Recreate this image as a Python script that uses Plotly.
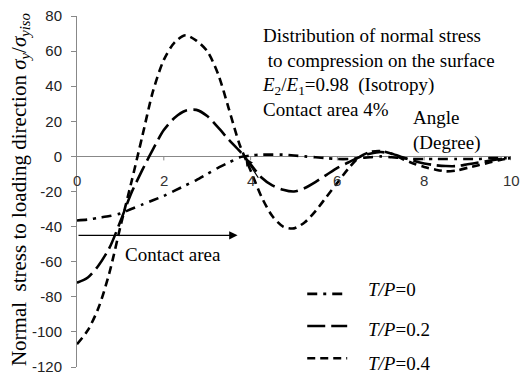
import plotly.graph_objects as go

# Angle (degree) sampling
angle = [0, 0.25, 0.5, 0.75, 1.0, 1.25, 1.5, 1.75, 2.0, 2.25, 2.5, 2.75, 3.0, 3.25,
         3.5, 3.75, 4.0, 4.25, 4.5, 4.75, 5.0, 5.25, 5.5, 5.75, 6.0, 6.25, 6.5, 6.75,
         7.0, 7.25, 7.5, 7.75, 8.0, 8.25, 8.5, 8.75, 9.0, 9.25, 9.5, 9.75, 10.0]

# Normal stress sigma_y / sigma_yiso for each T/P ratio
stress_tp0 = [-36.5, -36, -35, -34, -32.5, -30, -27.5, -25, -22.5, -19.5, -16.5, -13.5,
              -10, -6.5, -3.5, -0.5, 0.5, 1, 1, 1, 0.5, 0, -0.5, -1, -1.5, -1.5, -1,
              -0.5, 0, -0.5, -1, -1.5, -1.5, -1.5, -1.5, -1.5, -1.5, -1.5, -1, -1, -1]
stress_tp02 = [-72, -69, -62, -52, -37, -21, -8, 4, 15, 22, 26, 26.5, 23, 16.5, 9.5, 3,
               -4.5, -12, -16.5, -19, -20, -18, -14.5, -10.5, -6.5, -3.5, -0.5, 1.5,
               2.5, 1.5, -0.5, -2.5, -4, -5, -5.5, -5.5, -4.5, -3.5, -2.5, -1.5, -1]
stress_tp04 = [-107, -99, -86, -66, -40, -15, 11, 37, 55, 65, 69, 66, 60, 47, 27, 6.5,
               -8, -23, -34, -40, -41, -37.5, -31, -23, -15, -7, -0.5, 2.5, 3, 1.5,
               -1.5, -4, -6, -7.5, -8.5, -8, -6.5, -5, -3.5, -2, -1]

series_names = ["<i>T/P</i>=0", "<i>T/P</i>=0.2", "<i>T/P</i>=0.4"]
series_values = [stress_tp0, stress_tp02, stress_tp04]
series_dash = ["10px,6px,3px,6px", "18px,6px", "8px,5px"]

x_ticks = [0, 2, 4, 6, 8, 10]
y_ticks = [80, 60, 40, 20, 0, -20, -40, -60, -80, -100, -120]

contact_arrow_y = -45
contact_arrow_end = 3.7

SERIF = "Liberation Serif"
SANS = "Liberation Sans"

fig = go.Figure()
for name, vals, dash in zip(series_names, series_values, series_dash):
    fig.add_trace(go.Scatter(
        x=angle, y=vals, mode="lines", name=name,
        line=dict(color="black", width=2.6, dash=dash, shape="spline", smoothing=0.8),
        showlegend=False,
    ))

# plot-area geometry in pixels (used to place layout items in paper units)
L, R, T, B = 76.5, 511, 15, 375


def px(xp):
    return (xp - L) / (R - L)


def py(yp):
    return (B - yp) / (B - T)


shapes = []
annotations = []

# small tick marks hanging below the zero line at each x tick
for xv in x_ticks[1:]:
    shapes.append(dict(type="line", xref="x", yref="y", x0=xv, x1=xv,
                       ysizemode="pixel", yanchor=0, y0=0, y1=-4,
                       line=dict(color="#888888", width=1)))

# x tick labels sit just under the zero line
for xv in x_ticks:
    annotations.append(dict(x=xv, y=0, xref="x", yref="y", text=str(xv),
                            showarrow=False, yshift=-24,
                            font=dict(family=SANS, size=15, color="#333333")))

# legend drawn by hand: line sample + label
legend_line_y = [300, 333, 366]
legend_text_y = [296, 337, 371]
for name, dash, ly, ty in zip(series_names, series_dash, legend_line_y, legend_text_y):
    shapes.append(dict(type="line", xref="paper", yref="paper",
                       x0=px(307), x1=px(347), y0=py(ly), y1=py(ly),
                       line=dict(color="black", width=2.6, dash=dash)))
    annotations.append(dict(x=px(366), y=py(ty), xref="paper", yref="paper",
                            text=name, showarrow=False, xanchor="left", yanchor="middle",
                            font=dict(family=SERIF, size=19, color="black")))

# contact area arrow
annotations.append(dict(x=contact_arrow_end, y=contact_arrow_y, ax=0, ay=contact_arrow_y,
                        xref="x", yref="y", axref="x", ayref="y", text="",
                        showarrow=True, arrowhead=2, arrowsize=1.4, arrowwidth=1.2,
                        arrowcolor="black"))
annotations.append(dict(x=px(123), y=py(260), xref="paper", yref="paper",
                        text="Contact area", showarrow=False, xanchor="left",
                        yanchor="middle", font=dict(family=SERIF, size=19, color="black")))

# pointer to the point where the curves meet the zero line
annotations.append(dict(x=3.88, y=-1, ax=4.2, ay=-13, xref="x", yref="y",
                        axref="x", ayref="y", text="", showarrow=True, arrowhead=2,
                        arrowsize=1.3, arrowwidth=1.2, arrowcolor="black"))

# description block
annotations.append(dict(
    x=px(260), y=py(22), xref="paper", yref="paper", xanchor="left", yanchor="top",
    align="left", showarrow=False,
    text=("Distribution of normal stress<br>"
          " to compression on the surface<br>"
          "<i>E</i><sub>2</sub>/<i>E</i><sub>1</sub>=0.98  (Isotropy)<br>"
          "Contact area 4%"),
    font=dict(family=SERIF, size=19, color="black")))

annotations.append(dict(
    x=px(411), y=py(132), xref="paper", yref="paper", xanchor="left", yanchor="middle",
    align="left", showarrow=False, text="Angle<br>(Degree)",
    font=dict(family=SERIF, size=19, color="black")))

# y-axis title
annotations.append(dict(
    x=px(19), y=py(193), xref="paper", yref="paper", xanchor="center", yanchor="middle",
    textangle=-90, showarrow=False,
    text=("Normal  stress to loading direction "
          "<i>σ</i><sub><i>y</i></sub>/<i>σ</i><sub><i>yiso</i></sub>"),
    font=dict(family=SERIF, size=21, color="black")))

fig.update_layout(
    width=524, height=382,
    margin=dict(l=L, r=524 - R, t=T, b=382 - B, pad=0),
    paper_bgcolor="white", plot_bgcolor="white",
    showlegend=False,
    shapes=shapes, annotations=annotations,
    xaxis=dict(range=[0, 10], showgrid=False, zeroline=False, showline=False,
               showticklabels=False, ticks=""),
    yaxis=dict(range=[-120, 80], tickvals=y_ticks, ticktext=[str(v) for v in y_ticks],
               showgrid=False, zeroline=True, zerolinecolor="#888888", zerolinewidth=1,
               showline=True, linecolor="#888888", linewidth=1,
               ticks="outside", ticklen=5, tickcolor="#888888", ticklabelstandoff=6,
               ticklabeloverflow="allow",
               tickfont=dict(family=SANS, size=15, color="#222222")),
)

fig.write_html("out.html")
